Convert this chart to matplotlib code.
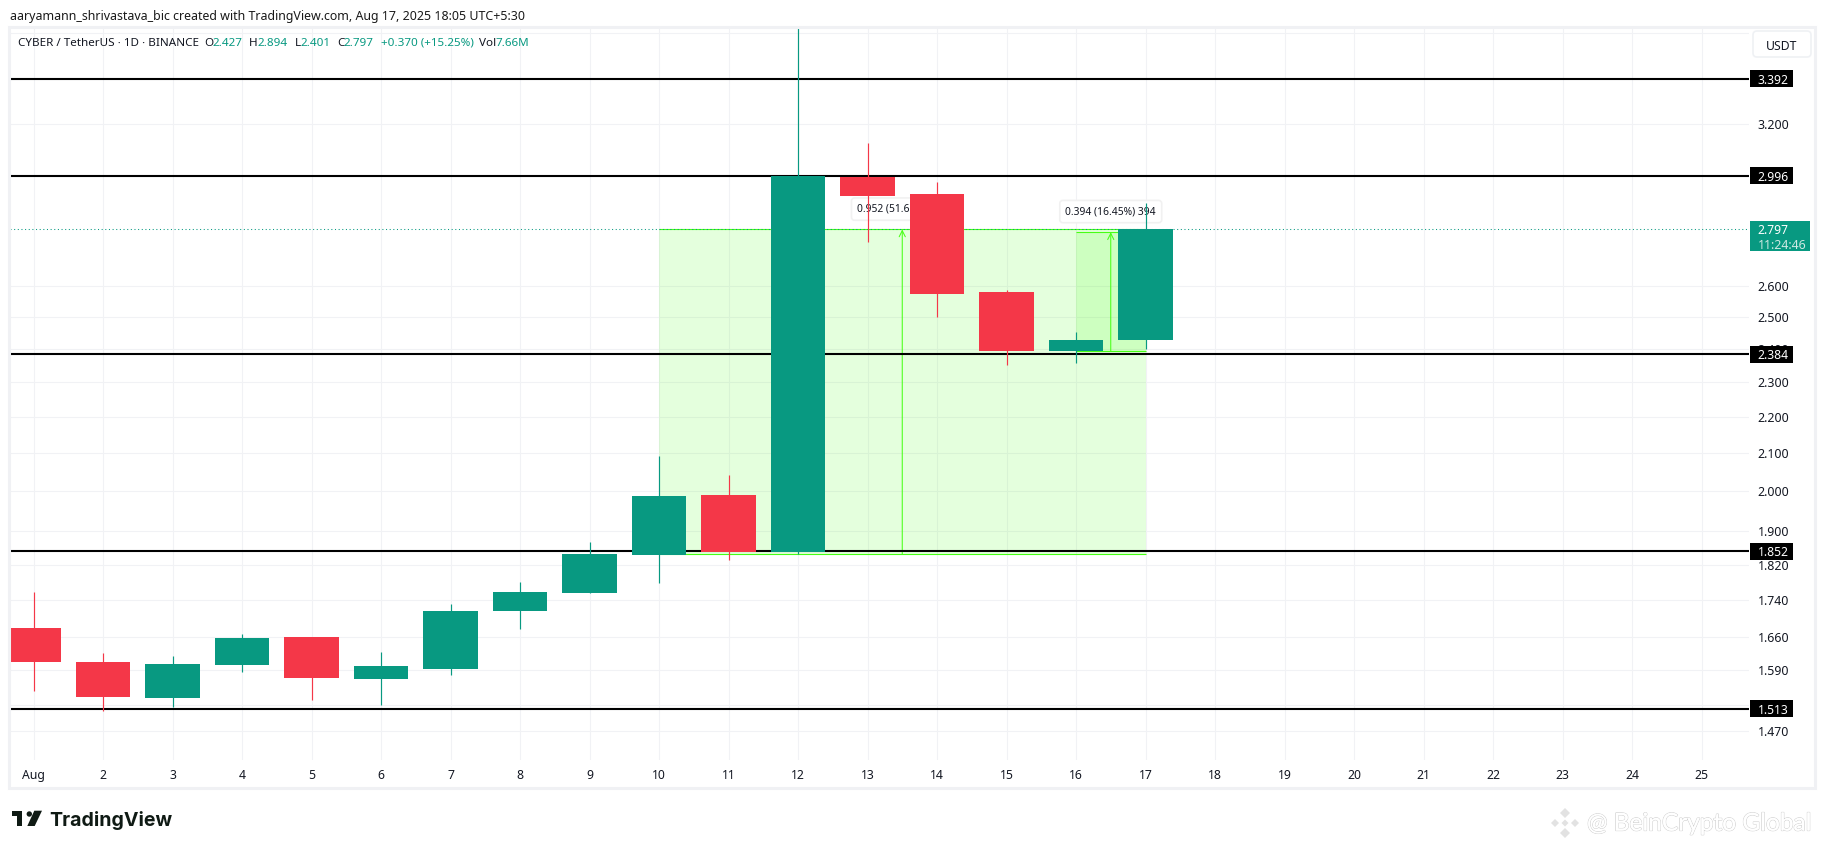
import matplotlib
matplotlib.use("Agg")
import matplotlib.pyplot as plt
from matplotlib.patches import Rectangle, Polygon, Circle, FancyBboxPatch
from matplotlib.ticker import NullLocator, NullFormatter
from matplotlib.transforms import IdentityTransform
import matplotlib.patheffects as pe

# ---- data -------------------------------------------------------------
days = list(range(1, 18))
opens = [1.679, 1.607, 1.535, 1.601, 1.659, 1.572, 1.593, 1.716, 1.756, 1.843, 1.990, 1.849, 2.992, 2.927, 2.582, 2.395, 2.427]
closes = [1.607, 1.537, 1.603, 1.657, 1.574, 1.599, 1.716, 1.758, 1.846, 1.988, 1.849, 2.996, 2.920, 2.576, 2.395, 2.428, 2.797]
highs = [1.758, 1.626, 1.619, 1.666, 1.659, 1.628, 1.731, 1.780, 1.874, 2.092, 2.042, 3.950, 3.125, 2.972, 2.589, 2.453, 2.894]
lows = [1.549, 1.508, 1.516, 1.587, 1.531, 1.521, 1.580, 1.676, 1.756, 1.778, 1.831, 1.846, 2.753, 2.501, 2.351, 2.358, 2.401]

levels = [3.392, 2.996, 2.384, 1.852, 1.513]
last_price = 2.797
countdown = "11:24:46"

price_ticks = [3.6, 3.2, 2.6, 2.5, 2.4, 2.3, 2.2, 2.1, 2.0, 1.9, 1.82, 1.74, 1.66, 1.59, 1.52, 1.47]
date_ticks = list(range(1, 26))
date_labels = ["Aug"] + [str(d) for d in range(2, 26)]

range_big = {"start": 10, "end": 17, "low": 1.845, "high": 2.797, "mid": 13.5, "label": "0.952 (51.60%) 952", "label_price": 2.871}
range_small = {"start": 16, "end": 17, "low": 2.393, "high": 2.787, "mid": 16.5, "label": "0.394 (16.45%) 394", "label_price": 2.862}

credit = "aaryamann_shrivastava_bic created with TradingView.com, Aug 17, 2025 18:05 UTC+5:30"
symbol = "CYBER / TetherUS · 1D · BINANCE"

# ---- style ------------------------------------------------------------
UP = "#089981"
DOWN = "#F43748"
TXT = "#131722"
GRID = "#f1f2f5"
RANGE = "#46ff14"
W, H = 1825, 849
plt.rcParams["font.family"] = ["Noto Sans", "DejaVu Sans"]

fig = plt.figure(figsize=(W / 100, H / 100), dpi=100, facecolor="white")
L, R, T, B = 10, 1749, 27, 760
ax = fig.add_axes([L / W, 1 - B / H, (R - L) / W, (B - T) / H])
ax.set_yscale("log")
ax.set_axisbelow(True)
for s in ax.spines.values():
    s.set_visible(False)

# ---- drawing tools (under the candles) --------------------------------
for rng in (range_big, range_small):
    ax.fill_between([rng["start"], rng["end"]], rng["low"], rng["high"],
                    color=RANGE, alpha=0.14, lw=0, zorder=1)
    ax.hlines([rng["low"], rng["high"]], rng["start"], rng["end"],
              color=RANGE, lw=0.8, zorder=1.2)
    ax.annotate("", xy=(rng["mid"], rng["high"]), xytext=(rng["mid"], rng["low"]),
                arrowprops=dict(arrowstyle="->", color=RANGE, lw=0.75, shrinkA=0, shrinkB=0, mutation_scale=11),
                zorder=1.3)
    ax.text(rng["mid"], rng["label_price"], rng["label"], ha="center", va="center", fontsize=7.4, color=TXT,
            zorder=2.6,
            bbox=dict(boxstyle="round,pad=0.55,rounding_size=0.3", fc="white", ec="#f1f1f1", lw=1.2))

ax.hlines(levels, 0, 30, color="black", lw=1.5, zorder=1.5)
ax.axhline(last_price, color=UP, lw=0.75, ls=(0, (1, 2.5)), zorder=1.6)

# ---- candles ----------------------------------------------------------
for d, o, c, h, l in zip(days, opens, closes, highs, lows):
    col = UP if c >= o else DOWN
    ax.vlines(d, l, h, color=col, lw=0.85, zorder=3)
    ax.bar(d, abs(c - o), bottom=min(o, c), width=0.79, color=col, lw=0, zorder=3.1)

# ---- axes -------------------------------------------------------------
ax.set_xlim(1 + (L - 33.5) / 69.5, 1 + (R - 33.5) / 69.5)
ax.set_ylim(1.4171, 3.6257)
ax.yaxis.tick_right()
ax.set_yticks(price_ticks)
ax.set_yticklabels(["" if p == 3.6 else f"{p:.3f}" for p in price_ticks])
ax.yaxis.set_minor_locator(NullLocator())
ax.yaxis.set_minor_formatter(NullFormatter())
ax.set_xticks(date_ticks)
ax.set_xticklabels(date_labels)
ax.tick_params(axis="y", length=0, pad=6.1, labelsize=8.9, labelcolor=TXT)
ax.tick_params(axis="x", length=0, pad=6.6, labelsize=8.8, labelcolor=TXT)
for lab in ax.get_yticklabels():
    lab.set_verticalalignment("center_baseline")
ax.grid(True, color=GRID, lw=0.8)
fig.canvas.draw()


# ---- pixel-placed helpers --------------------------------------------
def add_text(x, y, s, **kw):
    kw.setdefault("fontsize", 8.9)
    kw.setdefault("color", TXT)
    kw.setdefault("va", "center_baseline")
    kw.setdefault("zorder", 6)
    fig.text(x / W, 1 - y / H, s, **kw)


def add_rect(x0, y0, x1, y1, **kw):
    kw.setdefault("lw", 0)
    kw.setdefault("zorder", 5)
    fig.add_artist(Rectangle((x0 / W, 1 - y1 / H), (x1 - x0) / W, (y1 - y0) / H, transform=fig.transFigure, **kw))


def add_poly(points, **kw):
    fig.add_artist(Polygon([(x / W, 1 - y / H) for x, y in points], transform=fig.transFigure, lw=0, zorder=5, **kw))


def price_y(p):
    return H - ax.transData.transform((1, p))[1]


# frame
add_rect(9, 27, 1815, 788, fill=False, ec="#f0f1f4", lw=2.2, zorder=1)

# level tags
for lv in levels:
    y = price_y(lv)
    add_rect(1750, y - 8.5, 1793, y + 8.5, fc="black")
    add_text(1757.5, y, f"{lv:.3f}", color="white", fontweight="bold", fontsize=8.7)

# last price tag
y = price_y(last_price)
add_rect(1750, y - 8.5, 1810, y + 22, fc=UP)
add_text(1757.5, y, f"{last_price:.3f}", color="white", fontweight="bold", fontsize=8.7)
add_text(1757.5, y + 14.5, countdown, color="#cfe9e3", fontsize=8.9)

# currency button
fig.add_artist(FancyBboxPatch((1753, H - 57), 58, 26, boxstyle="round,pad=0,rounding_size=4",
                              transform=IdentityTransform(), fc="white", ec="#eff1f4", lw=1.2, zorder=5))
add_text(1782, 44.5, "USDT", ha="center", fontsize=8.8)

# header texts
add_text(10, 15, credit, fontsize=8.95, color="#1a1a1a")
add_text(18, 41.5, symbol, fontsize=8.4)
for x, s, col in [(204, "O", TXT), (212.6, "2.427", UP), (249, "H", TXT), (257, "2.894", UP),
                  (294.5, "L", TXT), (300.4, "2.401", UP), (337, "C", TXT), (344, "2.797", UP),
                  (380.6, "+0.370 (+15.25%)", UP), (479.4, "Vol", TXT), (495.7, "7.66M", UP)]:
    add_text(x, 41.5, s, color=col, fontsize=8.4)

# TradingView logo
LOGO = "#0f1a14"
add_poly([(12, 810.7), (22, 810.7), (22, 826), (16.7, 826), (16.7, 816), (12, 816)], fc=LOGO)
fig.add_artist(Circle((29.3, H - 814), 2.7, transform=IdentityTransform(), fc=LOGO, lw=0, zorder=5))
add_poly([(34.3, 810.7), (42, 810.7), (34.7, 826), (27.3, 826)], fc=LOGO)
add_text(49, 819, "TradingView", family=["Inter", "DejaVu Sans"], fontweight="bold", fontsize=14.1, color=LOGO)

# watermark
add_text(1587, 822, "@ BeinCrypto Global", family=["Lato", "DejaVu Sans"], fontsize=17.6, color="white",
         path_effects=[pe.withStroke(linewidth=0.9, foreground="#cfcfcf"), pe.Normal()])
WM = "#e2e2e2"
for cx, cy, r in [(1565, 813, 5), (1565, 833, 5), (1555, 823, 4), (1575, 823, 4), (1565, 823, 3.5)]:
    add_poly([(cx - r, cy), (cx, cy - r), (cx + r, cy), (cx, cy + r)], fc=WM)

fig.savefig("out.png", dpi=100, facecolor="white")
